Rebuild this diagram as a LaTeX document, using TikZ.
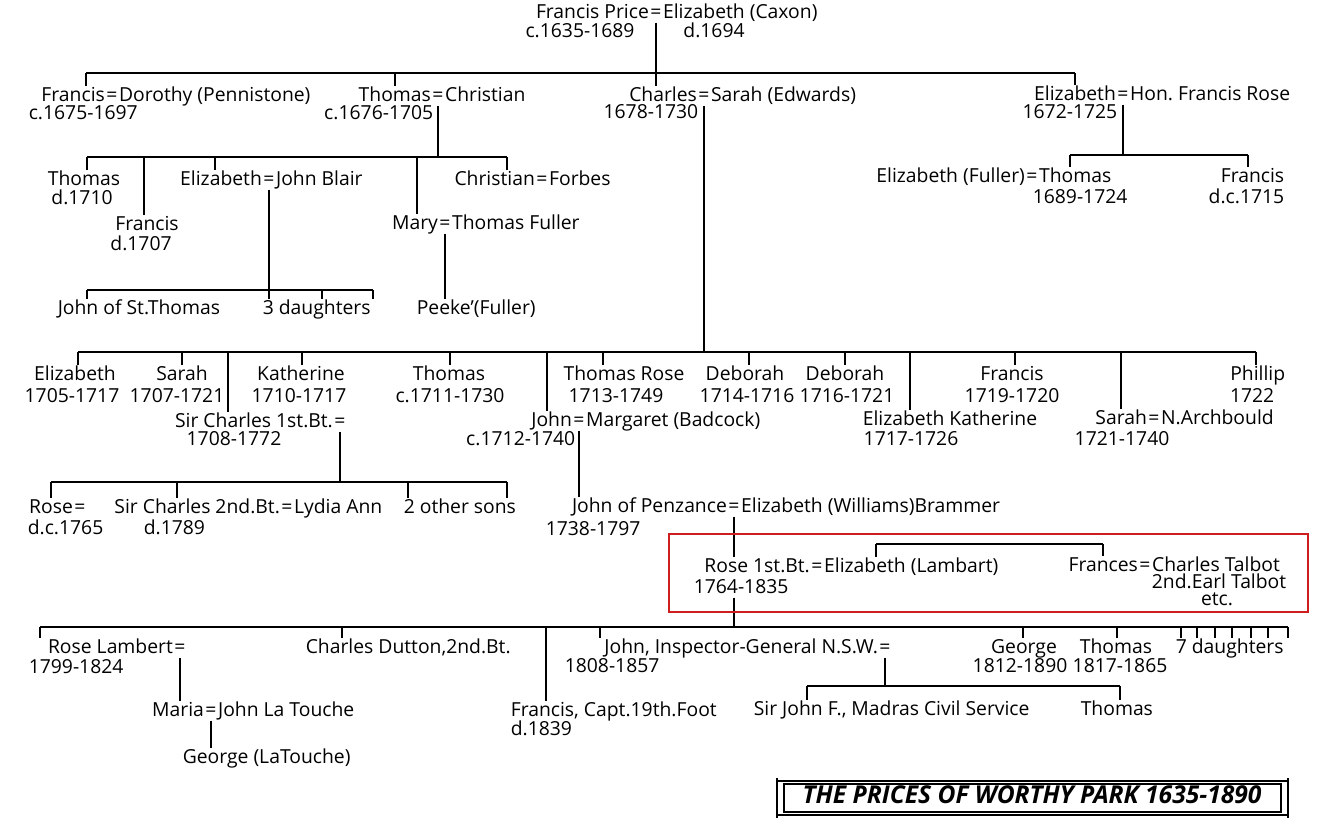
\documentclass[tikz,border=0pt]{standalone}
\usepackage{fontspec}
\setmainfont{Open Sans}
\usetikzlibrary{positioning}
\definecolor{boxred}{RGB}{204,30,30}
\frenchspacing
\begin{document}
\begin{tikzpicture}[x=0.02cm, y=-0.02cm, line width=0.9pt,
  every node/.style={inner sep=0pt, font=\fontsize{11}{12}\selectfont, text height=8pt, text depth=2pt}]
\useasboundingbox (0,0) rectangle (1329,831);

% Francis Price and his children
\node (priceeq) at (656,13) {=};
\node[left=0pt of priceeq] (francisprice) {Francis Price};
\node[right=0pt of priceeq] (caxon) {Elizabeth (Caxon)};
\node (pricedate) at (580,32) {c.1635-1689};
\node (caxondate) at (714,32) {d.1694};

\node (dorothyeq) at (112,96) {=};
\node[left=0pt of dorothyeq] (francis1) {Francis};
\node[right=0pt of dorothyeq] (dorothy) {Dorothy (Pennistone)};
\node[anchor=west] (francis1date) at (28,114) {c.1675-1697};
\node (christianeq) at (438,96) {=};
\node[left=0pt of christianeq] (thomas1) {Thomas};
\node[right=0pt of christianeq] (christian1) {Christian};
\node[anchor=east] (thomas1date) at (434,114) {c.1676-1705};
\node (sarahEq) at (704,96) {=};
\node[left=0pt of sarahEq] (charles) {Charles};
\node[right=0pt of sarahEq] (sarah) {Sarah (Edwards)};
\node[anchor=east] (charlesdate) at (699,113) {1678-1730};
\node (roseeq) at (1123,95) {=};
\node[left=0pt of roseeq] (elizrose) {Elizabeth};
\node[right=0pt of roseeq] (hon) {Hon. Francis Rose};
\node[anchor=east] (elizrosedate) at (1118,113) {1672-1725};

\draw (priceeq.south) -- (priceeq.south |- charles.north);
\draw (86,73) -- (1075,73);
\foreach \x/\n in {86/francis1, 395/thomas1, 1075/elizrose}
  \draw (\x,73) -- (\x,73 |- \n.north);

% Thomas = Christian
\node (thomas2) at (84,180) {Thomas};
\node (thomas2date) at (82,199) {d.1710};
\node (francis2) at (147,225) {Francis};
\node (francis2date) at (141,245) {d.1707};
\node (blaireq) at (269,180) {=};
\node[left=0pt of blaireq] (elizblair) {Elizabeth};
\node[right=0pt of blaireq] (blair) {John Blair};
\node (fullereq) at (445,224) {=};
\node[left=0pt of fullereq] (mary) {Mary};
\node[right=0pt of fullereq] (fuller) {Thomas Fuller};
\node (forbeseq) at (542,180) {=};
\node[left=0pt of forbeseq] (christian2) {Christian};
\node[right=0pt of forbeseq] (forbes) {Forbes};
\node[anchor=west] (stthomas) at (57,309) {John of St.Thomas};
\node[anchor=west] (daughters3) at (262,309) {3 daughters};
\node[anchor=west] (peeke) at (416,309) {Peeke’(Fuller)};

\draw (christianeq.south) -- (christianeq.south |- 0,157);
\draw (87,157) -- (507,157);
\foreach \x/\n in {87/thomas2, 144/francis2, 215/elizblair, 417/mary, 507/christian2}
  \draw (\x,157) -- (\x,157 |- \n.north);
\draw (blaireq.south) -- (blaireq.south |- stthomas.north);
\draw (87,290) -- (373,290);
\foreach \x/\n in {87/stthomas, 322/daughters3, 373/daughters3}
  \draw (\x,290) -- (\x,290 |- \n.north);
\draw (fullereq.south) -- (fullereq.south |- peeke.north);

% Elizabeth = Hon. Francis Rose
\node (thomaseq) at (1032,177) {=};
\node[left=0pt of thomaseq] (elizful) {Elizabeth (Fuller)};
\node[right=0pt of thomaseq] (thomasful) {Thomas};
\node[anchor=west] (thomasfuldate) at (1032,198) {1689-1724};
\node[anchor=east] (francis3) at (1285,177) {Francis};
\node[anchor=east] (francis3date) at (1285,198) {d.c.1715};

\draw (roseeq.south) -- (roseeq.south |- 0,155);
\draw (1070,155) -- (1248,155);
\foreach \x/\n in {1070/thomasful, 1248/francis3}
  \draw (\x,155) -- (\x,155 |- \n.north);

% Charles = Sarah (Edwards)
\node (eliz3) at (75,375) {Elizabeth};
\node (eliz3date) at (72,397) {1705-1717};
\node (sarah3) at (182,375) {Sarah};
\node (sarah3date) at (177,397) {1707-1721};
\node (kath3) at (301,375) {Katherine};
\node (kath3date) at (299,397) {1710-1717};
\node (thomas3) at (449,375) {Thomas};
\node (thomas3date) at (450,397) {c.1711-1730};
\node (throse) at (624,375) {Thomas Rose};
\node (throsedate) at (616,397) {1713-1749};
\node (deb1) at (745,375) {Deborah};
\node (deb1date) at (747,397) {1714-1716};
\node (deb2) at (845,375) {Deborah};
\node (deb2date) at (847,397) {1716-1721};
\node (francis4) at (1012,375) {Francis};
\node (francis4date) at (1012,397) {1719-1720};
\node[anchor=east] (phillip) at (1286,375) {Phillip};
\node[anchor=east] (phillipdate) at (1275,397) {1722};

\node (sceq) at (340,422) {=};
\node[left=0pt of sceq] (sircharles) {Sir Charles 1st.Bt.};
\node (sircharlesdate) at (234,440) {1708-1772};
\node (margeq) at (579,421) {=};
\node[left=0pt of margeq] (john3) {John};
\node[right=0pt of margeq] (margaret) {Margaret (Badcock)};
\node[anchor=east] (john3date) at (576,440) {c.1712-1740};
\node[anchor=west] (elizkath) at (862,420) {Elizabeth Katherine};
\node (elizkathdate) at (911,440) {1717-1726};
\node (archeq) at (1154,419) {=};
\node[left=0pt of archeq] (sarah4) {Sarah};
\node[right=0pt of archeq] (archbould) {N.Archbould};
\node (sarah4date) at (1122,440) {1721-1740};

\draw (sarahEq.south) -- (sarahEq.south |- 0,352);
\draw (78,352) -- (1256,352);
\foreach \x/\n in {78/eliz3, 182/sarah3, 228/sircharles, 302/kath3, 450/thomas3,
    547/john3, 603/throse, 749/deb1, 845/deb2, 910/elizkath, 1015/francis4,
    1121/sarah4, 1256/phillip}
  \draw (\x,352) -- (\x,352 |- \n.north);

% Sir Charles 1st Bt.
\node (rose4eq) at (80,508) {=};
\node[left=0pt of rose4eq] (rose4) {Rose};
\node[anchor=west] (rose4date) at (27,529) {d.c.1765};
\node (lydiaeq) at (287,508) {=};
\node[left=0pt of lydiaeq] (charles4) {Sir Charles 2nd.Bt.};
\node[right=0pt of lydiaeq] (lydia) {Lydia Ann};
\node[anchor=west] (charles4date) at (143,529) {d.1789};
\node[anchor=west] (othersons) at (403,508) {2 other sons};

\draw (sceq.south) -- (sceq.south |- 0,482);
\draw (51,482) -- (507,482);
\foreach \x/\n in {51/rose4, 177/charles4, 408/othersons, 507/othersons}
  \draw (\x,482) -- (\x,482 |- \n.north);

% John = Margaret (Badcock)
\node (penzeq) at (734,507) {=};
\node[left=0pt of penzeq] (penz) {John of Penzance};
\node[right=0pt of penzeq] (brammer) {Elizabeth (Williams)Brammer};
\node[anchor=west] (penzdate) at (545,530) {1738-1797};
\draw (margeq.south) -- (margeq.south |- penz.north);

\node (lambeq) at (817,567) {=};
\node[left=0pt of lambeq] (rose5) {Rose 1st.Bt.};
\node[right=0pt of lambeq] (lambart) {Elizabeth (Lambart)};
\node[anchor=west] (rose5date) at (693,588) {1764-1835};
\node (talboteq) at (1145,566) {=};
\node[left=0pt of talboteq] (frances) {Frances};
\node[right=0pt of talboteq] (talbot) {Charles Talbot};
\node[anchor=east] (earl) at (1287,583) {2nd.Earl Talbot};
\node (etc) at (1217,600) {etc.};

\draw (penzeq.south) -- (penzeq.south |- rose5.north);
\draw (penzeq.south |- rose5date.south) -- (penzeq.south |- 0,627);
\draw (876,544) -- (1103,544);
\foreach \x/\n in {876/lambart, 1103/frances}
  \draw (\x,544) -- (\x,544 |- \n.north);
\draw[boxred, line width=1.4pt] (669,534) rectangle (1308,612);

% Rose 1st Bt. = Elizabeth (Lambart)
\node (rleq) at (180,648) {=};
\node[left=0pt of rleq] (roselam) {Rose Lambert};
\node[anchor=west] (roselamdate) at (28,668) {1799-1824};
\node[anchor=west] (dutton) at (305,648) {Charles Dutton,2nd.Bt.};
\node[anchor=west] (francis5) at (510,711) {Francis, Capt.19th.Foot};
\node[anchor=west] (francis5date) at (510,730) {d.1839};
\node (igeq) at (885,648) {=};
\node[left=0pt of igeq] (johnig) {John, Inspector-General N.S.W.};
\node[anchor=west] (johnigdate) at (564,667) {1808-1857};
\node (george) at (1024,648) {George};
\node (georgedate) at (1020,667) {1812-1890};
\node (thomas5) at (1116,648) {Thomas};
\node (thomas5date) at (1120,667) {1817-1865};
\node[anchor=west] (daughters7) at (1175,648) {7 daughters};

\draw (40,627) -- (1288,627);
\foreach \x/\n in {40/roselam, 342/dutton, 546/francis5, 600/johnig, 1023/george,
    1117/thomas5, 1181/daughters7, 1197/daughters7, 1215/daughters7,
    1232/daughters7, 1251/daughters7, 1268/daughters7, 1288/daughters7}
  \draw (\x,627) -- (\x,627 |- \n.north);

\node (mariaeq) at (211,711) {=};
\node[left=0pt of mariaeq] (maria) {Maria};
\node[right=0pt of mariaeq] (latouche) {John La Touche};
\node[anchor=west] (georgelt) at (182,758) {George (LaTouche)};
\draw (rleq.south) -- (rleq.south |- maria.north);
\draw (mariaeq.south) -- (mariaeq.south |- georgelt.north);

\node[anchor=west] (sirjohn) at (753,710) {Sir John F., Madras Civil Service};
\node[anchor=west] (thomas6) at (1080,710) {Thomas};
\draw (igeq.south) -- (igeq.south |- 0,686);
\draw (807,686) -- (1120,686);
\foreach \x/\n in {807/sirjohn, 1120/thomas6}
  \draw (\x,686) -- (\x,686 |- \n.north);

% title scroll
\draw (777,781) -- (1288,781);
\draw (777,815) -- (1288,815);
\draw (784,784) rectangle (1281,812);
\draw (777,778) -- (777,818) (1288,778) -- (1288,818);
\node[font=\fontsize{14}{15}\selectfont\bfseries\itshape] (title) at (1032,798) {THE PRICES OF WORTHY PARK 1635-1890};
\end{tikzpicture}
\end{document}
